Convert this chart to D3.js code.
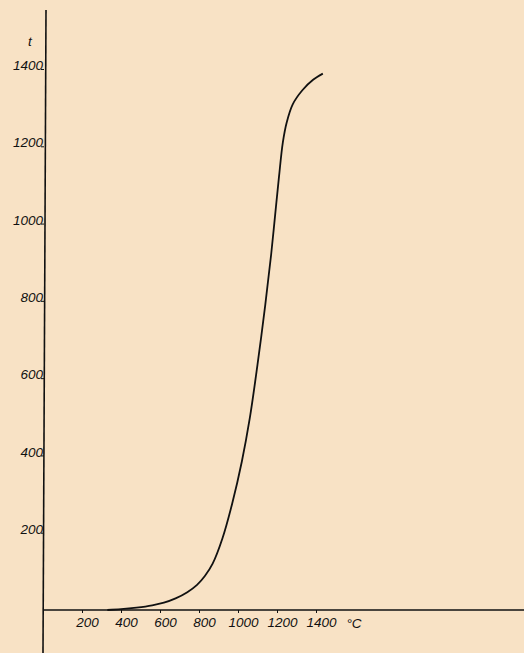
<!DOCTYPE html>
<html>
<head>
<meta charset="utf-8">
<script src="https://cdn.jsdelivr.net/npm/d3@7"></script>
<style>
  html, body { margin: 0; padding: 0; background: #f8e2c5; }
  svg { display: block; }
  .tick text { font-family: "Liberation Sans", sans-serif; font-style: italic; font-size: 13.5px; fill: #111; }
  .lbl { font-family: "Liberation Sans", sans-serif; font-style: italic; font-size: 13.5px; fill: #111; }
</style>
</head>
<body>
<svg id="svg"></svg>
<script>
// --- DATA ---
const temperature = [330, 400, 480, 560, 620, 680, 740, 790, 830, 870, 920, 970, 1020, 1060, 1100, 1140, 1170, 1190, 1210, 1230, 1250, 1280, 1330, 1385, 1435];
const amount      = [0, 2, 6, 12, 19, 30, 46, 65, 88, 120, 185, 275, 385, 495, 635, 790, 920, 1020, 1120, 1210, 1262, 1308, 1345, 1372, 1388];
const xTicks = [200, 400, 600, 800, 1000, 1200, 1400];
const yTicks = [200, 400, 600, 800, 1000, 1200, 1400];
const xUnit = "°C";
const yUnit = "t";

// --- CONFIG ---
const W = 524, H = 653;
const X0 = 43, X1 = 316;   // pixel positions of 0 and 1400 °C
const Y0 = 610, Y1 = 69;   // pixel positions of 0 and 1400 t

const svg = d3.select("#svg").attr("width", W).attr("height", H);

svg.append("rect").attr("width", W).attr("height", H).attr("fill", "#f8e2c5");

const x = d3.scaleLinear().domain([0, 1400]).range([X0, X1]);
const y = d3.scaleLinear().domain([0, 1400]).range([Y0, Y1]);

// axis lines (drawn past the data range like the original)
svg.append("line")
  .attr("x1", 46).attr("y1", 10).attr("x2", 43).attr("y2", H)
  .attr("stroke", "#111").attr("stroke-width", 1.6);
svg.append("line")
  .attr("x1", X0).attr("y1", Y0).attr("x2", W).attr("y2", Y0)
  .attr("stroke", "#111").attr("stroke-width", 1.6);

// x axis ticks + labels
const gx = svg.append("g").attr("transform", `translate(0,${Y0})`)
  .call(d3.axisBottom(x).tickValues(xTicks).tickSize(3).tickFormat(d3.format("d")));
gx.select(".domain").remove();
gx.selectAll(".tick line").attr("stroke", "#111");
gx.selectAll(".tick text").attr("dx", 5).attr("y", 7);

svg.append("text").attr("class", "lbl")
  .attr("x", x(1400) + 38).attr("y", Y0 + 18)
  .attr("text-anchor", "middle").text(xUnit);

// y axis ticks + labels
const gy = svg.append("g").attr("transform", `translate(${X0 + 1},0)`)
  .call(d3.axisLeft(y).tickValues(yTicks).tickSize(3).tickFormat(d3.format("d")));
gy.select(".domain").remove();
gy.selectAll(".tick line").attr("stroke", "#111");
gy.selectAll(".tick text").attr("x", -1).attr("dy", "0.05em");

svg.append("text").attr("class", "lbl")
  .attr("x", 30).attr("y", 46)
  .attr("text-anchor", "middle").text(yUnit);

// curve
const line = d3.line()
  .x((d, i) => x(temperature[i]))
  .y(d => y(d))
  .curve(d3.curveCatmullRom.alpha(0.5));

svg.append("path")
  .datum(amount)
  .attr("d", line)
  .attr("fill", "none")
  .attr("stroke", "#111")
  .attr("stroke-width", 1.8);
</script>
</body>
</html>
